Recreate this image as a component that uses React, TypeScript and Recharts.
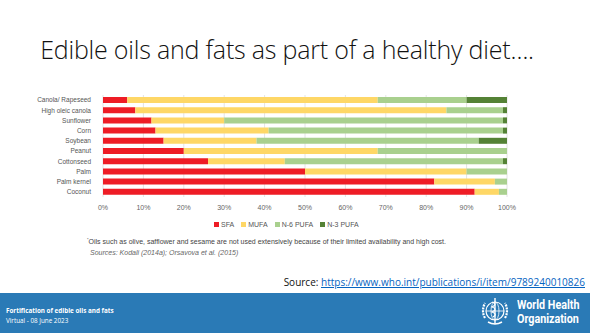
import React from "react";
import { BarChart, Bar, XAxis, YAxis, CartesianGrid } from "recharts";

const OILS = [
  "Canola/ Rapeseed",
  "High oleic canola",
  "Sunflower",
  "Corn",
  "Soybean",
  "Peanut",
  "Cottonseed",
  "Palm",
  "Palm kernel",
  "Coconut",
];
const SFA = [6, 8, 12, 13, 15, 20, 26, 50, 82, 92];
const MUFA = [62, 77, 18, 28, 23, 48, 19, 40, 15, 6];
const N6_PUFA = [22, 14, 69, 58, 55, 32, 54, 10, 3, 2];
const N3_PUFA = [10, 1, 1, 1, 7, 0, 1, 0, 0, 0];
const X_TICKS = [0, 10, 20, 30, 40, 50, 60, 70, 80, 90, 100];

const SERIES = [
  { key: "sfa", name: "SFA", color: "#ee1c25" },
  { key: "mufa", name: "MUFA", color: "#fed766" },
  { key: "n6", name: "N-6 PUFA", color: "#a9d08e" },
  { key: "n3", name: "N-3 PUFA", color: "#548235" },
];

const data = OILS.map((name, i) => ({
  name,
  sfa: SFA[i],
  mufa: MUFA[i],
  n6: N6_PUFA[i],
  n3: N3_PUFA[i],
}));

const OilTick = (props: any) => {
  const { x, y, payload } = props;
  return (
    <text
      x={x - 4}
      y={y}
      dy="0.35em"
      textAnchor="end"
      fontSize={6.5}
      fill="#555"
      fontFamily="Arial, sans-serif"
    >
      {payload.value}
    </text>
  );
};

const WhoEmblem = () => (
  <svg width={34} height={34} viewBox="0 0 34 34">
    <circle cx={17} cy={17} r={9} fill="none" stroke="#fff" strokeWidth={1.2} />
    <ellipse cx={17} cy={17} rx={4} ry={9} fill="none" stroke="#fff" strokeWidth={0.8} />
    <line x1={8} y1={17} x2={26} y2={17} stroke="#fff" strokeWidth={0.8} />
    <line x1={17} y1={4} x2={17} y2={30} stroke="#fff" strokeWidth={1.4} />
    <path d="M14 8 Q20 10 14 13 Q20 15 14 18 Q20 20 15 23" fill="none" stroke="#fff" strokeWidth={1.2} />
    <path d="M7 24 Q3 17 7 9" fill="none" stroke="#fff" strokeWidth={2.2} strokeDasharray="2 1" />
    <path d="M27 24 Q31 17 27 9" fill="none" stroke="#fff" strokeWidth={2.2} strokeDasharray="2 1" />
    <path d="M10 28 Q17 32 24 28" fill="none" stroke="#fff" strokeWidth={1.5} />
  </svg>
);

export default function App() {
  return (
    <div
      style={{
        position: "absolute",
        left: 0,
        top: 0,
        width: 590,
        height: 333,
        background: "#fff",
        overflow: "hidden",
        fontFamily: "'Open Sans', sans-serif",
      }}
    >
      {/* Title */}
      <div
        style={{
          position: "absolute",
          left: 0,
          width: 574,
          top: 32,
          textAlign: "center",
          fontFamily: "'Open Sans', sans-serif",
          fontWeight: 300,
          fontSize: 25,
          color: "#111",
          letterSpacing: -0.2,
          whiteSpace: "nowrap",
        }}
      >
        Edible oils and fats as part of a healthy diet….
      </div>

      {/* Chart */}
      <div style={{ position: "absolute", left: 0, top: 90 }}>
        <BarChart
          width={520}
          height={127}
          data={data}
          layout="vertical"
          margin={{ top: 5, right: 13, left: 0, bottom: 0 }}
          barCategoryGap={2}
        >
          <CartesianGrid horizontal={false} stroke="#e4e4e4" />
          <XAxis
            type="number"
            domain={[0, 100]}
            ticks={X_TICKS}
            tickFormatter={(v) => `${v}%`}
            axisLine={false}
            tickLine={false}
            height={20}
            interval={0}
            tick={{ fontSize: 7, fill: "#666", fontFamily: "Arial, sans-serif" }}
          />
          <YAxis
            type="category"
            dataKey="name"
            width={103}
            axisLine={false}
            tickLine={false}
            interval={0}
            tick={<OilTick />}
          />
          {SERIES.map((s) => (
            <Bar
              key={s.key}
              dataKey={s.key}
              name={s.name}
              stackId="a"
              fill={s.color}
              isAnimationActive={false}
            />
          ))}
        </BarChart>
      </div>

      {/* Legend */}
      <div
        style={{
          position: "absolute",
          left: 214,
          top: 221,
          display: "flex",
          gap: 7,
          fontFamily: "Arial, sans-serif",
          fontSize: 7,
          color: "#555",
          whiteSpace: "nowrap",
        }}
      >
        {SERIES.map((s) => (
          <span key={s.key} style={{ display: "flex", alignItems: "center", gap: 2 }}>
            <span style={{ width: 5, height: 5, background: s.color, display: "inline-block" }} />
            {s.name}
          </span>
        ))}
      </div>

      {/* Footnote */}
      <div
        style={{
          position: "absolute",
          left: 87,
          top: 237,
          fontFamily: "Arial, sans-serif",
          fontSize: 7,
          color: "#444",
          whiteSpace: "nowrap",
        }}
      >
        <sup style={{ fontSize: 4 }}>*</sup>Oils such as olive, safflower and sesame are not used extensively because of their limited availability and high cost.
      </div>
      <div
        style={{
          position: "absolute",
          left: 90,
          top: 249,
          fontFamily: "Arial, sans-serif",
          fontSize: 7,
          fontStyle: "italic",
          color: "#666",
          whiteSpace: "nowrap",
        }}
      >
        Sources: Kodali (2014a); Orsavova et al. (2015)
      </div>

      {/* Source link */}
      <div
        style={{
          position: "absolute",
          right: 5,
          top: 275,
          fontFamily: "'Open Sans', sans-serif",
          fontSize: 10,
          color: "#111",
          whiteSpace: "nowrap",
        }}
      >
        Source:{" "}
        <span style={{ color: "#0563c1", textDecoration: "underline" }}>
          https://www.who.int/publications/i/item/9789240010826
        </span>
      </div>

      {/* Footer */}
      <div
        style={{
          position: "absolute",
          left: 0,
          top: 293,
          width: 590,
          height: 40,
          background: "#2a7ab6",
          color: "#fff",
        }}
      >
        <div style={{ position: "absolute", left: 6, top: 13, fontSize: 6.3, fontWeight: 700, whiteSpace: "nowrap" }}>
          Fortification of edible oils and fats
        </div>
        <div style={{ position: "absolute", left: 6, top: 23, fontSize: 6.3, whiteSpace: "nowrap" }}>
          Virtual -  08 June 2023
        </div>
        <div style={{ position: "absolute", left: 478, top: 1 }}>
          <WhoEmblem />
        </div>
        <div
          style={{
            position: "absolute",
            left: 517,
            top: 6,
            fontFamily: "Roboto, sans-serif",
            fontSize: 12.5,
            fontWeight: 700,
            lineHeight: 1,
            whiteSpace: "nowrap",
            transform: "scaleX(0.86)",
            transformOrigin: "left top",
          }}
        >
          <div>World Health</div>
          <div style={{ marginTop: 1 }}>Organization</div>
        </div>
      </div>
    </div>
  );
}
